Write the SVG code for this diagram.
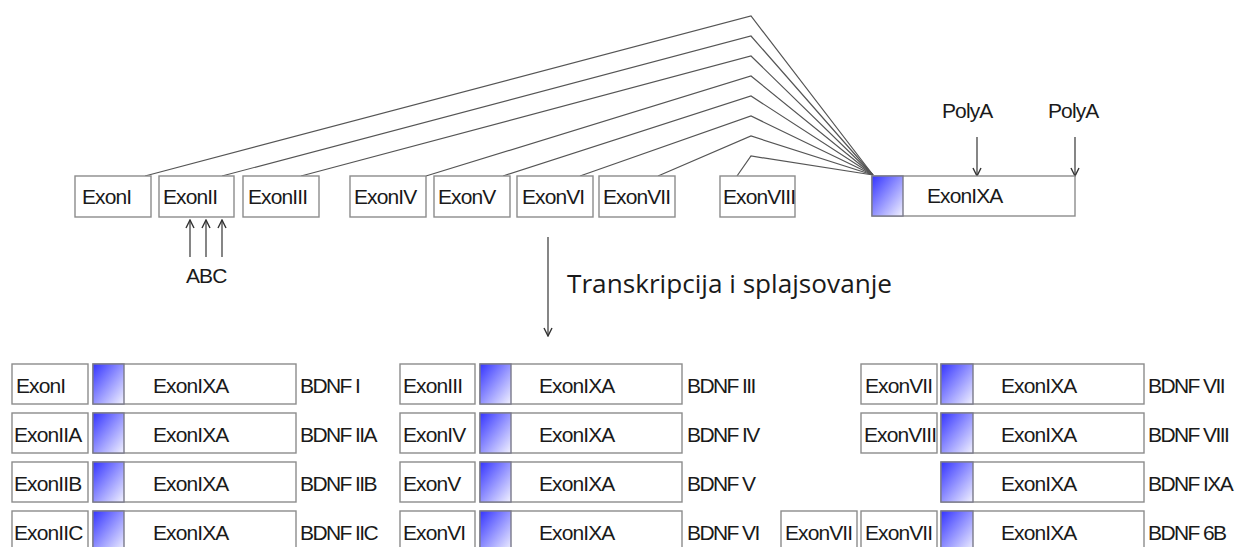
<svg xmlns="http://www.w3.org/2000/svg" width="1235" height="547" viewBox="0 0 1235 547">
  <defs>
    <linearGradient id="utr" x1="0" y1="0" x2="1" y2="1">
      <stop offset="0" stop-color="#3434ff"/>
      <stop offset="1" stop-color="#f2f2ff"/>
    </linearGradient>
    <marker id="head" viewBox="0 0 10 10" refX="9" refY="5" markerWidth="10" markerHeight="10" markerUnits="userSpaceOnUse" orient="auto">
      <path d="M1,1 L9,5 L1,9" fill="none" stroke="#333" stroke-width="1.4"/>
    </marker>
  </defs>
  <style>
    .box { fill: #fff; stroke: #8c8c8c; stroke-width: 1.4; }
    .utr { fill: url(#utr); stroke: #7a7a8a; stroke-width: 1.4; }
    .lbl { font-family: "Liberation Sans", Arial, sans-serif; font-size: 21px; letter-spacing: -0.9px; fill: #1a1a1a; }
    .tag { letter-spacing: -1.6px; }
    .link { fill: none; stroke: #555; stroke-width: 1.2; }
    .arr { fill: none; stroke: #444; stroke-width: 1.3; marker-end: url(#head); }
    .note { font-family: "Open Sans", "Noto Sans", sans-serif; font-size: 25px; fill: #1a1a1a; }
  </style>
  <rect width="1235" height="547" fill="#fff"/>

  <!-- splice connectors from each upstream exon to exon IXA -->
  <g id="connectors">
    <polyline class="link" points="145,176 751,16 873,175"/>
    <polyline class="link" points="222,176 751,36 873,175"/>
    <polyline class="link" points="301,176 751,56 873,175"/>
    <polyline class="link" points="426,176 751,76 873,175"/>
    <polyline class="link" points="503,176 751,96 873,175"/>
    <polyline class="link" points="580,176 751,116 873,175"/>
    <polyline class="link" points="658,176 751,136 873,175"/>
    <polyline class="link" points="737,176 751,156 873,175"/>
    <!-- promoter arrows under exon II -->
    <line class="arr" x1="190" y1="257" x2="190" y2="220"/>
    <line class="arr" x1="206" y1="257" x2="206" y2="220"/>
    <line class="arr" x1="222" y1="257" x2="222" y2="220"/>
    <!-- polyadenylation sites -->
    <line class="arr" x1="977" y1="137" x2="977" y2="176"/>
    <line class="arr" x1="1075" y1="137" x2="1075" y2="176"/>
    <!-- transcription and splicing -->
    <line class="arr" x1="548" y1="237" x2="548" y2="336"/>
  </g>

  <!-- gene structure -->
  <g id="exon1"><rect class="box" x="75" y="176" width="76" height="41"/><text class="lbl" x="82" y="204">ExonI</text></g>
  <g id="exon2"><rect class="box" x="159" y="176" width="75" height="41"/><text class="lbl" x="163" y="204">ExonII</text></g>
  <g id="exon3"><rect class="box" x="243" y="176" width="76" height="41"/><text class="lbl" x="248" y="204">ExonIII</text></g>
  <g id="exon4"><rect class="box" x="350" y="176" width="76" height="41"/><text class="lbl" x="354" y="204">ExonIV</text></g>
  <g id="exon5"><rect class="box" x="434" y="176" width="76" height="41"/><text class="lbl" x="438" y="204">ExonV</text></g>
  <g id="exon6"><rect class="box" x="517" y="176" width="76" height="41"/><text class="lbl" x="522" y="204">ExonVI</text></g>
  <g id="exon7"><rect class="box" x="599" y="176" width="76" height="41"/><text class="lbl" x="603" y="204">ExonVII</text></g>
  <g id="exon8"><rect class="box" x="720" y="176" width="75" height="41"/><text class="lbl" x="723" y="204">ExonVIII</text></g>
  <g id="exon9a">
    <rect class="box" x="872" y="176" width="203" height="40"/>
    <rect class="utr" x="872" y="176" width="31" height="40"/>
    <text class="lbl" x="927" y="203">ExonIXA</text>
  </g>
  <g id="labels-top">
    <text class="lbl" x="186" y="283">ABC</text>
    <text class="lbl" x="942" y="118">PolyA</text>
    <text class="lbl" x="1048" y="118">PolyA</text>
    <text class="note" x="567" y="293" textLength="325" lengthAdjust="spacingAndGlyphs">Transkripcija i splajsovanje</text>
  </g>

  <!-- transcripts, column 1 -->
  <g id="bdnf1"><rect class="box" x="12" y="364" width="76" height="40"/><rect class="box" x="93" y="364" width="203" height="40"/><rect class="utr" x="93" y="364" width="31" height="40"/><text class="lbl" x="16" y="393">ExonI</text><text class="lbl" x="153" y="393">ExonIXA</text><text class="lbl tag" x="300" y="393">BDNF I</text></g>
  <g id="bdnf2a"><rect class="box" x="12" y="413" width="76" height="40"/><rect class="box" x="93" y="413" width="203" height="40"/><rect class="utr" x="93" y="413" width="31" height="40"/><text class="lbl" x="14" y="442">ExonIIA</text><text class="lbl" x="153" y="442">ExonIXA</text><text class="lbl tag" x="300" y="442">BDNF IIA</text></g>
  <g id="bdnf2b"><rect class="box" x="12" y="462" width="76" height="40"/><rect class="box" x="93" y="462" width="203" height="40"/><rect class="utr" x="93" y="462" width="31" height="40"/><text class="lbl" x="14" y="491">ExonIIB</text><text class="lbl" x="153" y="491">ExonIXA</text><text class="lbl tag" x="300" y="491">BDNF IIB</text></g>
  <g id="bdnf2c"><rect class="box" x="12" y="511" width="76" height="40"/><rect class="box" x="93" y="511" width="203" height="40"/><rect class="utr" x="93" y="511" width="31" height="40"/><text class="lbl" x="14" y="540">ExonIIC</text><text class="lbl" x="153" y="540">ExonIXA</text><text class="lbl tag" x="300" y="540">BDNF IIC</text></g>

  <!-- transcripts, column 2 -->
  <g id="bdnf3"><rect class="box" x="400" y="364" width="75" height="40"/><rect class="box" x="480" y="364" width="202" height="40"/><rect class="utr" x="480" y="364" width="31" height="40"/><text class="lbl" x="403" y="393">ExonIII</text><text class="lbl" x="539" y="393">ExonIXA</text><text class="lbl tag" x="687" y="393">BDNF III</text></g>
  <g id="bdnf4"><rect class="box" x="400" y="413" width="75" height="40"/><rect class="box" x="480" y="413" width="202" height="40"/><rect class="utr" x="480" y="413" width="31" height="40"/><text class="lbl" x="403" y="442">ExonIV</text><text class="lbl" x="539" y="442">ExonIXA</text><text class="lbl tag" x="687" y="442">BDNF IV</text></g>
  <g id="bdnf5"><rect class="box" x="400" y="462" width="75" height="40"/><rect class="box" x="480" y="462" width="202" height="40"/><rect class="utr" x="480" y="462" width="31" height="40"/><text class="lbl" x="403" y="491">ExonV</text><text class="lbl" x="539" y="491">ExonIXA</text><text class="lbl tag" x="687" y="491">BDNF V</text></g>
  <g id="bdnf6"><rect class="box" x="400" y="511" width="75" height="40"/><rect class="box" x="480" y="511" width="202" height="40"/><rect class="utr" x="480" y="511" width="31" height="40"/><text class="lbl" x="403" y="540">ExonVI</text><text class="lbl" x="539" y="540">ExonIXA</text><text class="lbl tag" x="687" y="540">BDNF VI</text></g>

  <!-- transcripts, column 3 -->
  <g id="bdnf7"><rect class="box" x="861" y="364" width="76" height="40"/><rect class="box" x="941" y="364" width="203" height="40"/><rect class="utr" x="941" y="364" width="32" height="40"/><text class="lbl" x="865" y="393">ExonVII</text><text class="lbl" x="1001" y="393">ExonIXA</text><text class="lbl tag" x="1148" y="393">BDNF VII</text></g>
  <g id="bdnf8"><rect class="box" x="861" y="413" width="76" height="40"/><rect class="box" x="941" y="413" width="203" height="40"/><rect class="utr" x="941" y="413" width="32" height="40"/><text class="lbl" x="864" y="442">ExonVIII</text><text class="lbl" x="1001" y="442">ExonIXA</text><text class="lbl tag" x="1148" y="442">BDNF VIII</text></g>
  <g id="bdnf9a"><rect class="box" x="941" y="462" width="203" height="40"/><rect class="utr" x="941" y="462" width="32" height="40"/><text class="lbl" x="1001" y="491">ExonIXA</text><text class="lbl tag" x="1148" y="491">BDNF IXA</text></g>
  <g id="bdnf6b"><rect class="box" x="781" y="511" width="76" height="40"/><rect class="box" x="861" y="511" width="76" height="40"/><rect class="box" x="941" y="511" width="203" height="40"/><rect class="utr" x="941" y="511" width="32" height="40"/><text class="lbl" x="785" y="540">ExonVII</text><text class="lbl" x="865" y="540">ExonVII</text><text class="lbl" x="1001" y="540">ExonIXA</text><text class="lbl tag" x="1148" y="540">BDNF 6B</text></g>
</svg>
